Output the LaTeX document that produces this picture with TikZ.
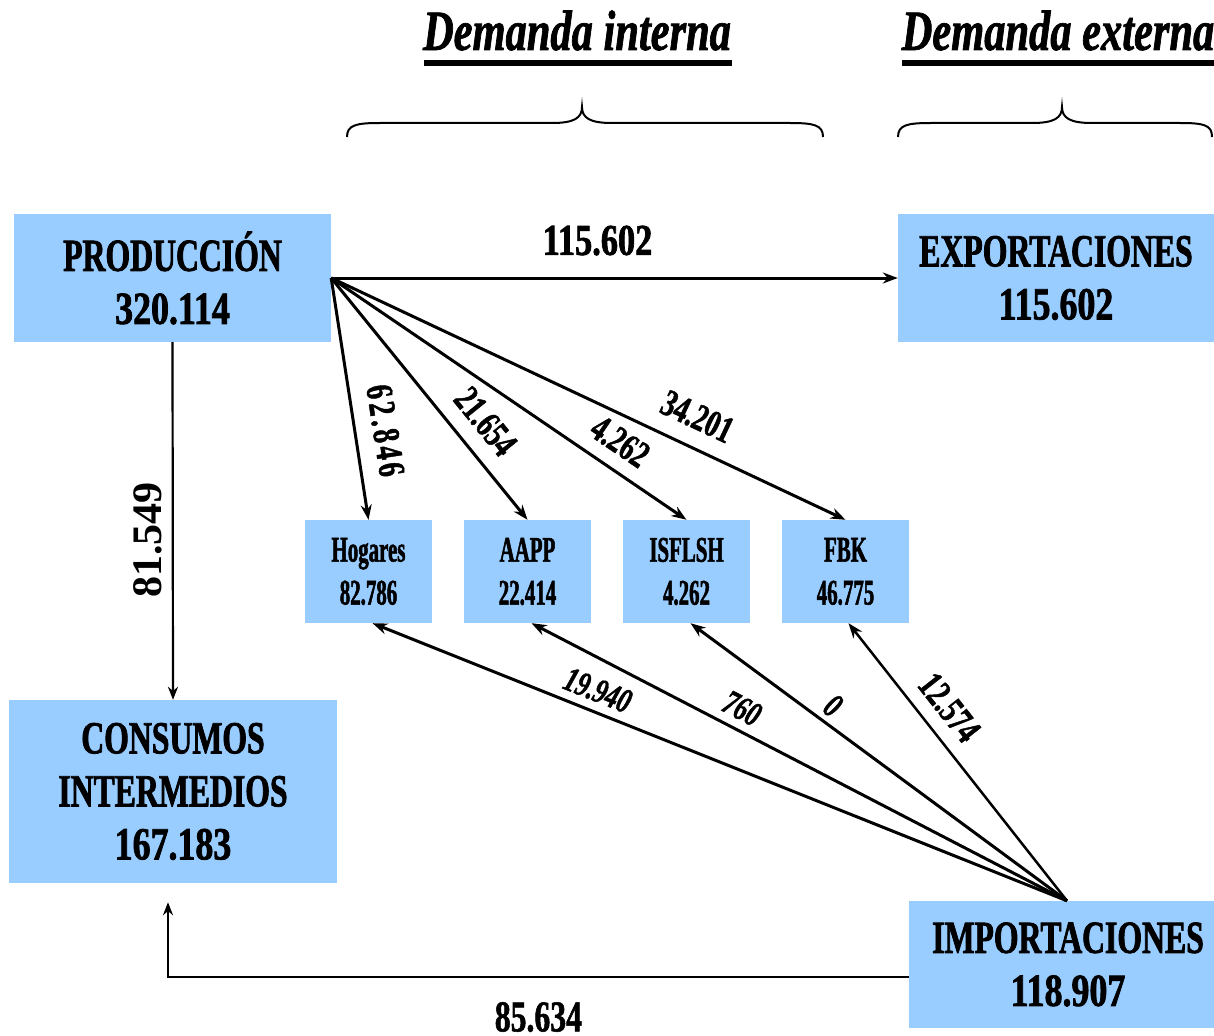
\documentclass[tikz,border=0pt]{standalone}
\usepackage{fontspec}
\setmainfont{Liberation Serif}
\newfontfamily\fBox{Liberation Serif}[FakeStretch=0.69, BoldFeatures={FakeBold=1.6}]
\newfontfamily\fNum{Liberation Serif}[FakeStretch=0.78, BoldFeatures={FakeBold=1.6}]
\newfontfamily\fSmall{Liberation Serif}[FakeStretch=0.58, BoldFeatures={FakeBold=1.4}]
\newfontfamily\fLab{Liberation Serif}[FakeStretch=0.72, BoldFeatures={FakeBold=1.2}, BoldItalicFeatures={FakeBold=1.2}]
\newfontfamily\fLabWide{Liberation Serif}[FakeStretch=0.72, LetterSpace=9, BoldFeatures={FakeBold=1.2}]
\newfontfamily\fTitle{Liberation Serif}[FakeStretch=0.745, BoldItalicFeatures={FakeBold=1.2}]
\usetikzlibrary{arrows.meta}
\definecolor{boxblue}{RGB}{153,204,255}
\begin{document}
\begin{tikzpicture}[x=1pt,y=-1pt,
  bigbox/.style={fill=boxblue, inner sep=0pt, align=center, font=\fBox\bfseries\fontsize{46}{53}\selectfont},
  smallbox/.style={fill=boxblue, inner sep=0pt, align=center, minimum width=127pt, minimum height=103pt, font=\fSmall\bfseries\fontsize{36}{43}\selectfont},
  lab/.style={inner sep=0pt, font=\fLab\bfseries\fontsize{38}{38}\selectfont},
  labi/.style={inner sep=0pt, font=\fLab\bfseries\itshape\fontsize{35}{35}\selectfont},
  flow/.style={line width=3pt, -{Stealth[length=15pt,width=11pt]}},
  flowback/.style={line width=3pt, {Stealth[length=15pt,width=11pt]}-},
  thinflow/.style={line width=2.2pt, -{Stealth[length=13pt,width=10pt]}},
  bracepath/.style={line width=2pt},
  titlefont/.style={anchor=base, inner sep=0pt, font=\fTitle\bfseries\itshape\fontsize{57}{57}\selectfont}
]
\useasboundingbox (0,0) rectangle (1214,1035);

% titles
\node[titlefont] (ti) at (577,50) {Demanda interna};
\node[titlefont] (te) at (1058,50) {Demanda externa};
\fill (424,60.5) rectangle (732,66);
\fill (902,60.5) rectangle (1214,66);

% braces
\draw[bracepath] (347,137) .. controls (347,125) and (356,123) .. (380,123) -- (552,123)
  .. controls (574,123) and (582,118) .. (582,107)
  .. controls (582,118) and (590,123) .. (612,123) -- (790,123)
  .. controls (814,123) and (823,125) .. (823,137);
\draw[bracepath] (898,137) .. controls (898,125) and (907,123) .. (931,123) -- (1032,123)
  .. controls (1054,123) and (1062,118) .. (1062,107)
  .. controls (1062,118) and (1070,123) .. (1092,123) -- (1180,123)
  .. controls (1204,123) and (1212,125) .. (1212,137);

% boxes
\node[bigbox, minimum width=317pt, minimum height=128pt] (prod) at (172.5,278) {PRODUCCIÓN\\{\fNum 320.114}};
\node[bigbox, minimum width=316pt, minimum height=128pt] (exp) at (1056,278) {EXPORTACIONES\\{\fNum 115.602}};
\node[bigbox, minimum width=328pt, minimum height=183pt] (cons) at (173,791.5) {CONSUMOS\\INTERMEDIOS\\{\fNum 167.183}};
\node[bigbox, minimum width=305pt, minimum height=127pt] (imp) at (1061.5,964.5) {\hspace*{13pt}IMPORTACIONES\\\hspace*{13pt}{\fNum 118.907}};

\node[smallbox] (hog) at (368.5,571.5) {Hogares\\82.786};
\node[smallbox] (aapp) at (527.5,571.5) {AAPP\\22.414};
\node[smallbox] (isf) at (686.5,571.5) {ISFLSH\\4.262};
\node[smallbox] (fbk) at (845.5,571.5) {FBK\\46.775};

% production flows
\draw[flow] (prod.east) -- (exp.west)
  node[lab, pos=0.47, above=21pt, font=\fNum\bfseries\fontsize{44}{44}\selectfont] {115.602};
\draw[flow] (prod.east) -- (hog.north) node[lab, sloped, pos=0.65, above=16pt, font=\fLabWide\bfseries\fontsize{38}{38}\selectfont] {62.846};
\draw[flow] (prod.east) -- (aapp.north) node[lab, sloped, pos=0.67, above=15pt] {21.654};
\draw[flow] (prod.east) -- (isf.north) node[lab, sloped, pos=0.77, above=13pt] {4.262};
\draw[flow] (prod.east) -- (fbk.north) node[lab, sloped, pos=0.687, above=16pt] {34.201};

\draw[thinflow] (prod.south) -- (cons.north)
  node[pos=0.553, rotate=90, anchor=south, inner sep=10pt, font=\bfseries\fontsize{42}{42}\selectfont] {81.549};

% import flows
\coordinate (impTop) at ([xshift=5.5pt]imp.north);
\draw[flowback] ([xshift=4pt]hog.south) -- (impTop) node[labi, sloped, pos=0.313, above=8pt] {19.940};
\draw[flowback] ([xshift=4pt]aapp.south) -- (impTop) node[labi, sloped, pos=0.375, above=8pt] {760};
\draw[flowback] ([xshift=4pt]isf.south) -- (impTop) node[labi, sloped, pos=0.35, above=5pt] {0};
\draw[flowback, line width=2.5pt] ([xshift=3pt]fbk.south) -- (impTop) node[lab, sloped, pos=0.364, above=13pt] {12.574};

\draw[thinflow, shorten >=19pt] ([yshift=-12.5pt]imp.west) -|
  node[lab, pos=0.25, below=24pt, font=\fLab\bfseries\fontsize{44}{44}\selectfont] {85.634}
  ([xshift=-5pt]cons.south);
\end{tikzpicture}
\end{document}
